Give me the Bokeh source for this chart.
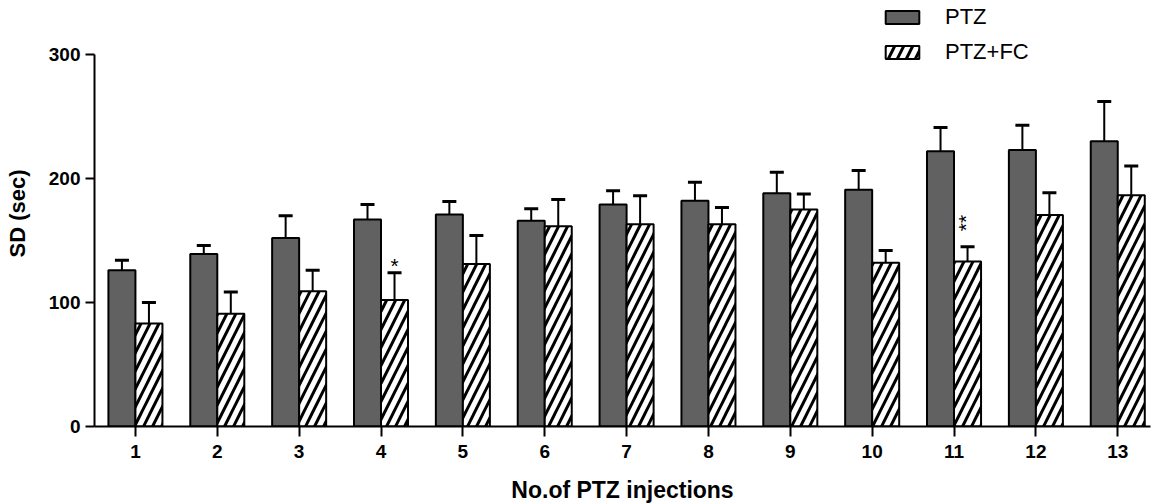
import numpy as np
from bokeh.plotting import figure
from bokeh.models import (ColumnDataSource, Range1d, FixedTicker, Whisker, TeeHead,
                          Legend, LegendItem)
from bokeh.core.properties import value
from bokeh.embed import file_html
from bokeh.resources import INLINE

# ---- data ----
injections = [1, 2, 3, 4, 5, 6, 7, 8, 9, 10, 11, 12, 13]
ptz_mean = [126, 139, 152, 167, 171, 166, 179, 182, 188, 191, 222, 223, 230]
ptz_sem = [8, 7, 18, 12, 10.5, 9.5, 11, 15, 17, 15.5, 19, 20, 32]
fc_mean = [83, 91, 109, 102, 131, 161.5, 163, 163, 175, 132, 133, 170.5, 186.5]
fc_sem = [17, 17.5, 17, 22, 23, 21.5, 23, 13.5, 12.5, 10, 12, 18, 23.5]
sig_injection = [4, 11]
sig_label = ["*", "**"]
y_ticks = [0, 100, 200, 300]

FONT = "Liberation Sans"
BAR_W = 0.33
DARK = "#616161"

x = np.array(injections, dtype=float)
ptz_top = np.array(ptz_mean, dtype=float)
fc_top = np.array(fc_mean, dtype=float)

src_ptz = ColumnDataSource(dict(x=x - BAR_W / 2, top=ptz_top,
                                upper=ptz_top + np.array(ptz_sem)))
src_fc = ColumnDataSource(dict(x=x + BAR_W / 2, top=fc_top,
                               upper=fc_top + np.array(fc_sem)))

p = figure(frame_width=1056, frame_height=426,
           x_range=Range1d(0.5, 13.4), y_range=Range1d(0, 343.5),
           output_backend="svg", toolbar_location=None,
           min_border_left=94, min_border_right=2, min_border_top=0,
           min_border_bottom=78)
p.outline_line_color = None
p.grid.visible = False
p.background_fill_color = "white"

r1 = p.vbar(x="x", top="top", width=BAR_W, bottom=0, source=src_ptz,
            fill_color=DARK, line_color="black", line_width=2)
r2 = p.vbar(x="x", top="top", width=BAR_W, bottom=0, source=src_fc,
            fill_color="white", line_color="black", line_width=2,
            hatch_pattern="/", hatch_color="black", hatch_weight=3,
            hatch_scale=18)

for src in (src_ptz, src_fc):
    w = Whisker(source=src, base="x", lower="top", upper="upper",
                dimension="height", lower_head=None,
                upper_head=TeeHead(size=14, line_width=3, line_color="black"),
                line_width=2, line_color="black")
    p.add_layout(w)

# significance marks above the PTZ+FC bars
sx, sy, sang = [], [], []
for inj, lab in zip(sig_injection, sig_label):
    i = injections.index(inj)
    top = fc_mean[i] + fc_sem[i]
    if len(lab) == 1:
        sx.append(inj + BAR_W / 2)
        sy.append(top + 6)
        sang.append(0.0)
    else:
        sx.append(inj + BAR_W / 2 - 0.02)
        sy.append(top + 19)
        sang.append(np.pi / 2)
p.text(x=sx, y=sy, text=sig_label, angle=sang, text_align="center",
       text_baseline="middle", text_font=value(FONT), text_font_size="21px",
       text_color="black")

# axes
for ax in (p.xaxis[0], p.yaxis[0]):
    ax.axis_line_width = 2
    ax.axis_line_color = "black"
    ax.major_tick_line_width = 2
    ax.major_tick_line_color = "black"
    ax.major_tick_in = 0
    ax.minor_tick_line_color = None
    ax.major_label_text_font = FONT
    ax.major_label_text_font_style = "bold"
    ax.major_label_text_font_size = "19px"
    ax.major_label_text_color = "black"
    ax.axis_label_text_font = FONT
    ax.axis_label_text_font_style = "bold"
    ax.axis_label_text_color = "black"

p.xaxis.ticker = FixedTicker(ticks=injections)
p.xaxis.major_tick_out = 10
p.xaxis.major_label_standoff = 8
p.xaxis.axis_label = "No.of PTZ injections"
p.xaxis.axis_label_text_font_size = "23px"
p.xaxis.axis_label_standoff = 16

p.yaxis.ticker = FixedTicker(ticks=y_ticks)
p.yaxis.bounds = (0, 300)
p.yaxis.major_tick_out = 9
p.yaxis.major_label_standoff = 5
p.yaxis.axis_label = "SD (sec)"
p.yaxis.axis_label_text_font_size = "22px"
p.yaxis.axis_label_standoff = 16

legend = Legend(items=[LegendItem(label="PTZ", renderers=[r1]),
                       LegendItem(label="PTZ+FC", renderers=[r2])],
                location=(787, 361), orientation="vertical",
                glyph_width=42, glyph_height=16, label_height=24,
                label_standoff=22, spacing=9, padding=0, margin=0,
                border_line_color=None, background_fill_alpha=0,
                label_text_font=FONT, label_text_font_size="22px",
                label_text_color="black")
p.add_layout(legend)

open("out.html", "w").write(file_html(p, INLINE))
